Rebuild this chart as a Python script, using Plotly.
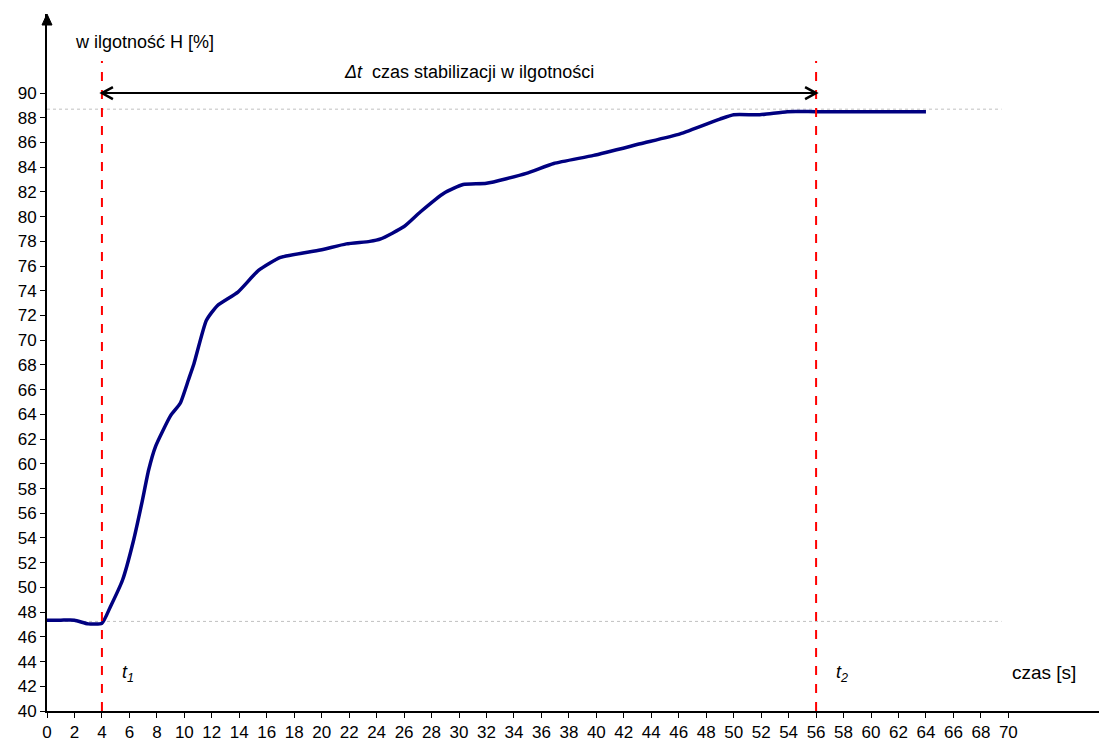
import plotly.graph_objects as go

# Humidity response over time
czas = [0, 1, 2, 3, 4, 4.6, 5.5, 6.3, 6.9, 7.4, 7.9, 9, 9.7, 10.3, 10.7, 11.6, 12.4,
        13.9, 15.4, 17, 19.9, 21.8, 23.5, 24.3, 26, 27.2, 28.9, 30.3, 32, 34.9, 36.9,
        39.8, 43.2, 46.1, 49, 50, 51.9, 53.9, 56, 64]
wilgotnosc = [47.35, 47.35, 47.35, 47.05, 47.1, 48.4, 50.6, 53.8, 56.8, 59.5, 61.4,
              63.9, 64.9, 66.8, 68.1, 71.6, 72.8, 73.9, 75.65, 76.7, 77.3, 77.8, 78.0,
              78.2, 79.2, 80.4, 81.9, 82.6, 82.7, 83.5, 84.3, 84.96, 85.9, 86.7, 87.9,
              88.25, 88.25, 88.5, 88.5, 88.5]

x_ticks = list(range(0, 71, 2))
y_ticks = list(range(40, 91, 2))

t1, t2 = 4, 56
h_start, h_end = 47.25, 88.7
arrow_level = 90
x_max, y_max = 76.6, 96.4

FONT = "Liberation Sans, Arial, sans-serif"

fig = go.Figure()
fig.add_trace(go.Scatter(
    x=czas, y=wilgotnosc, mode="lines",
    line=dict(color="#000080", width=3.5, shape="spline", smoothing=0.5),
    showlegend=False, hoverinfo="skip",
))

shapes = []
# reference levels
for lvl in (h_start, h_end):
    shapes.append(dict(type="line", xref="x", yref="y", x0=0, x1=69.5, y0=lvl, y1=lvl,
                       line=dict(color="#c0c0c0", width=1, dash="dot"), layer="below"))
# start / end markers
for tm in (t1, t2):
    shapes.append(dict(type="line", xref="x", yref="y", x0=tm, x1=tm, y0=40, y1=92.6,
                       line=dict(color="#ff0000", width=2, dash="dash")))

# interval arrow: shaft plus open chevron heads at both ends
shapes.append(dict(type="line", xref="x", yref="y", x0=t1, x1=t2,
                   y0=arrow_level, y1=arrow_level, line=dict(color="black", width=2)))
shapes.append(dict(type="path", xref="x", yref="y", xsizemode="pixel", ysizemode="pixel",
                   xanchor=t2, yanchor=arrow_level, path="M-11,-6 L0,0 L-11,6",
                   line=dict(color="black", width=2.5)))
shapes.append(dict(type="path", xref="x", yref="y", xsizemode="pixel", ysizemode="pixel",
                   xanchor=t1, yanchor=arrow_level, path="M11,-6 L0,0 L11,6",
                   line=dict(color="black", width=2.5)))
# y-axis arrow tip at the top of the axis line
shapes.append(dict(type="path", xref="paper", yref="paper", xsizemode="pixel",
                   ysizemode="pixel", xanchor=0, yanchor=1,
                   path="M-5,-11 L0,0 L5,-11 Z",
                   fillcolor="black", line=dict(color="black", width=1)))

annotations = [
    dict(x=30.7, y=91.67, xref="x", yref="y", showarrow=False,
         text="<i>Δt</i>  czas stabilizacji w ilgotności",
         font=dict(family=FONT, size=18, color="black")),
    dict(x=7.07, y=94.1, xref="x", yref="y", showarrow=False,
         text="w ilgotność H [%]", font=dict(family=FONT, size=18, color="black")),
    dict(x=5.9, y=43.05, xref="x", yref="y", showarrow=False,
         text="<i>t<sub>1</sub></i>", font=dict(family=FONT, size=18, color="black")),
    dict(x=57.9, y=43.05, xref="x", yref="y", showarrow=False,
         text="<i>t<sub>2</sub></i>", font=dict(family=FONT, size=18, color="black")),
    dict(x=72.6, y=43.1, xref="x", yref="y", showarrow=False,
         text="czas [s]", font=dict(family=FONT, size=19, color="black")),
]

fig.update_layout(
    width=1099, height=746,
    margin=dict(l=47, r=0, t=14, b=35, pad=0),
    paper_bgcolor="white", plot_bgcolor="white",
    font=dict(family=FONT, size=17, color="black"),
    shapes=shapes, annotations=annotations, showlegend=False,
    xaxis=dict(range=[0, x_max], tickvals=x_ticks, ticktext=[str(v) for v in x_ticks],
               showgrid=False, zeroline=False, showline=True, linecolor="black",
               linewidth=2, ticks="outside", ticklen=5, tickwidth=1, tickcolor="black",
               tickfont=dict(family=FONT, size=17, color="black")),
    yaxis=dict(range=[40, y_max], tickvals=y_ticks, ticktext=[str(v) for v in y_ticks],
               showgrid=False, zeroline=False, showline=True, linecolor="black",
               linewidth=2, ticks="outside", ticklen=5, tickwidth=1, tickcolor="black",
               tickfont=dict(family=FONT, size=17, color="black")),
)

fig.write_html("out.html")
